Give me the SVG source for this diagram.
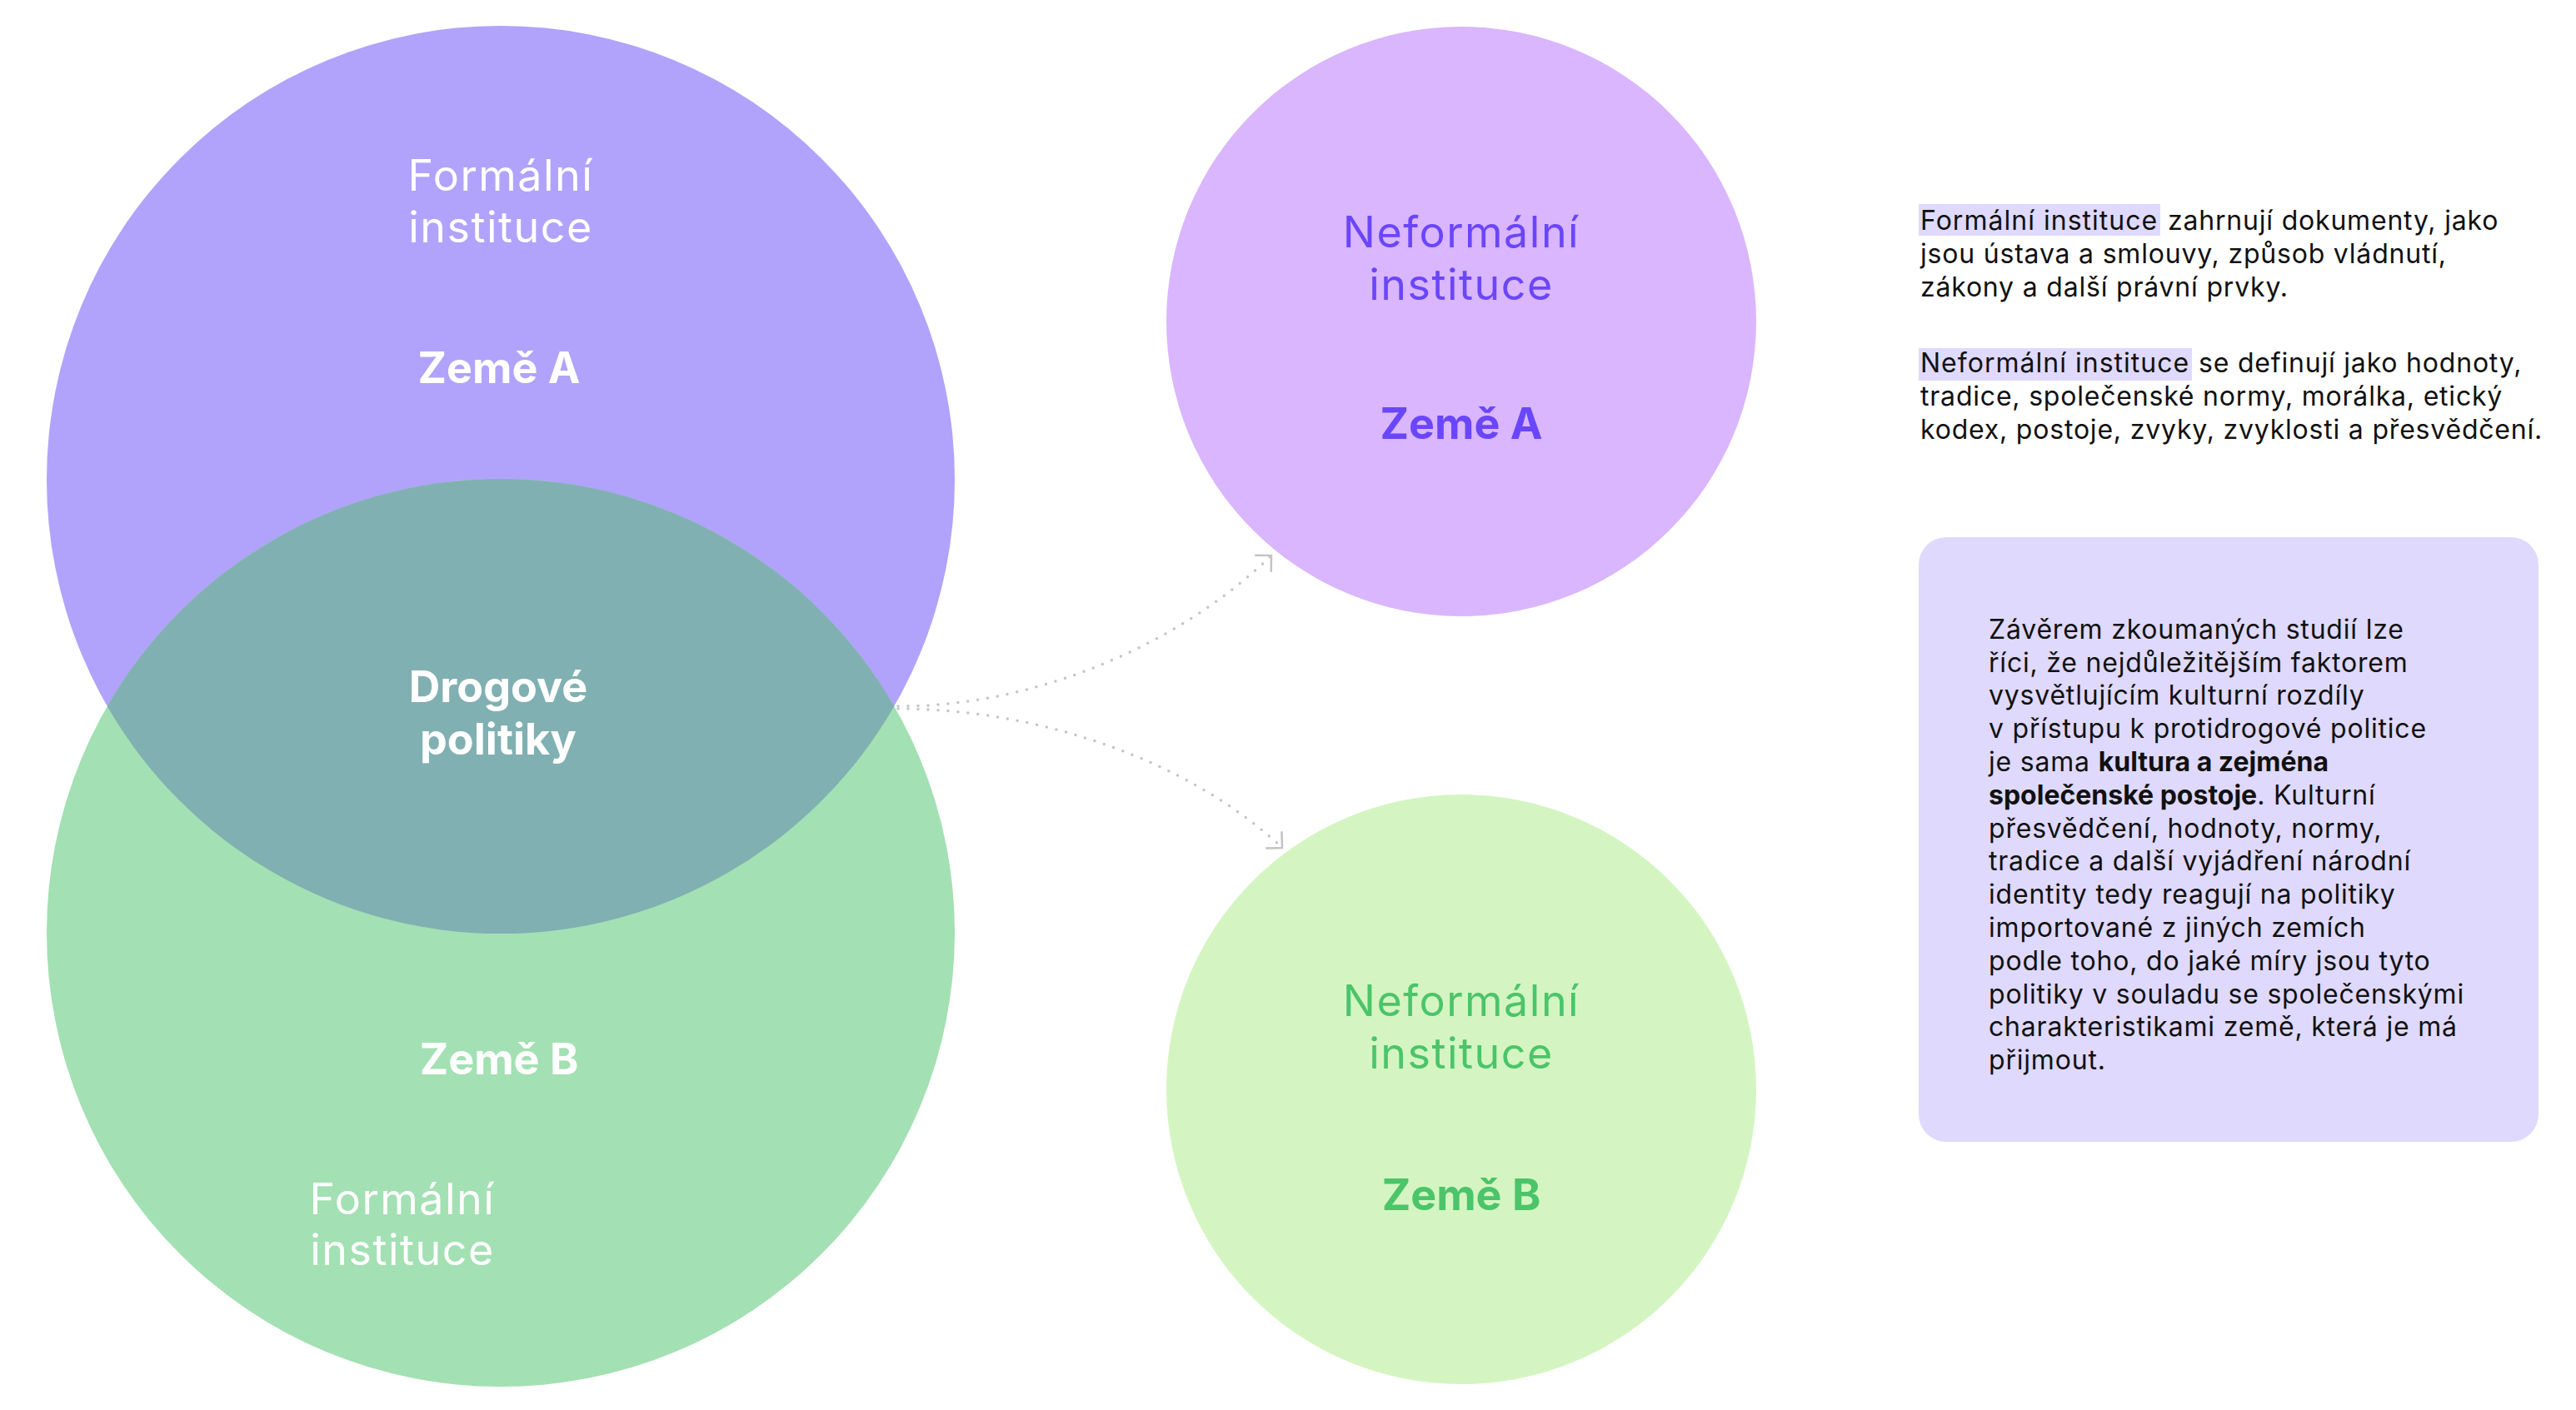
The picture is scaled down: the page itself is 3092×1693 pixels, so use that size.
<svg xmlns="http://www.w3.org/2000/svg" width="3092" height="1693" viewBox="0 0 3092 1693">
<style>
.lbl{font-family:Inter,"Noto Sans","DejaVu Sans",sans-serif;font-size:52px;text-anchor:middle;letter-spacing:1.5px}
.b{font-weight:700;letter-spacing:0}
.w{fill:#ffffff}
.pt{fill:#6A46FA}
.gt{fill:#4BC46A}
.body{font-family:Inter,"Noto Sans","DejaVu Sans",sans-serif;font-size:32px;fill:#111111;letter-spacing:0.8px}
.hl{fill:#DFDAFD}
.conn{fill:none;stroke:#C4C4C4;stroke-width:3.5;stroke-linecap:round;stroke-dasharray:0 12}
</style>
<defs>
<marker id="arr" markerUnits="userSpaceOnUse" viewBox="-20 -20 40 40" markerWidth="40" markerHeight="40" refX="0" refY="0" orient="auto">
<path d="M-14,-14 L0,0 L-14,14" fill="none" stroke="#C4C4C4" stroke-width="2.5"/>
</marker>
</defs>
<rect width="3092" height="1693" fill="#ffffff"/>

<g id="formal-a">
<circle cx="601" cy="576" r="545" fill="#B1A3FC"/>
<text class="lbl w" x="601" y="229">Formální</text>
<text class="lbl w" x="601" y="291">instituce</text>
<text class="lbl w b" x="599" y="460">Země A</text>
</g>

<g id="formal-b">
<circle cx="601" cy="1120" r="545" fill="#A3E0B3"/>
<text class="lbl w b" x="599" y="1290">Země B</text>
<text class="lbl w" x="483" y="1458">Formální</text>
<text class="lbl w" x="483" y="1519">instituce</text>
</g>

<g id="drug-policy">
<path d="M128.7,848 A545,545 0 0 1 1073.3,848 A545,545 0 0 1 128.7,848 Z" fill="#81B0B2"/>
<text class="lbl w b" x="598" y="843">Drogové</text>
<text class="lbl w b" x="598" y="906">politiky</text>
</g>

<g id="informal-a">
<circle cx="1754" cy="386" r="354" fill="#D9B6FD"/>
<text class="lbl pt" x="1754" y="297">Neformální</text>
<text class="lbl pt" x="1754" y="360">instituce</text>
<text class="lbl pt b" x="1754" y="527">Země A</text>
</g>

<g id="informal-b">
<circle cx="1754" cy="1308" r="354" fill="#D4F5C1"/>
<text class="lbl gt" x="1754" y="1220">Neformální</text>
<text class="lbl gt" x="1754" y="1283">instituce</text>
<text class="lbl gt b" x="1754" y="1453">Země B</text>
</g>

<g id="connectors">
<path class="conn" d="M1078,848 C1250,848 1420,770 1526,667" marker-end="url(#arr)"/>
<path class="conn" d="M1078,851 C1250,851 1430,915 1539,1018" marker-end="url(#arr)"/>
</g>

<g id="definitions">
<rect class="hl" x="2303" y="245" width="290" height="38"/>
<rect class="hl" x="2303" y="418" width="328" height="39"/>
<text class="body" x="2305" y="276" textLength="285" lengthAdjust="spacing">Formální instituce</text>
<text class="body" x="2602" y="276">zahrnují dokumenty, jako</text>
<text class="body" x="2305" y="316">jsou ústava a smlouvy, způsob vládnutí,</text>
<text class="body" x="2305" y="356">zákony a další právní prvky.</text>
<text class="body" x="2305" y="447" textLength="323" lengthAdjust="spacing">Neformální instituce</text>
<text class="body" x="2639" y="447">se definují jako hodnoty,</text>
<text class="body" x="2305" y="487">tradice, společenské normy, morálka, etický</text>
<text class="body" x="2305" y="527">kodex, postoje, zvyky, zvyklosti a přesvědčení.</text>
</g>

<g id="conclusion">
<rect x="2303" y="645" width="744" height="726" rx="33" ry="33" fill="#DFD9FD"/>
<text class="body" x="2387" y="767">Závěrem zkoumaných studií lze</text>
<text class="body" x="2387" y="807">říci, že nejdůležitějším faktorem</text>
<text class="body" x="2387" y="846">vysvětlujícím kulturní rozdíly</text>
<text class="body" x="2387" y="886">v přístupu k protidrogové politice</text>
<text class="body" x="2387" y="926">je sama <tspan class="b">kultura a zejména</tspan></text>
<text class="body" x="2387" y="966"><tspan class="b">společenské postoje</tspan>. Kulturní</text>
<text class="body" x="2387" y="1006">přesvědčení, hodnoty, normy,</text>
<text class="body" x="2387" y="1045">tradice a další vyjádření národní</text>
<text class="body" x="2387" y="1085">identity tedy reagují na politiky</text>
<text class="body" x="2387" y="1125">importované z jiných zemích</text>
<text class="body" x="2387" y="1165">podle toho, do jaké míry jsou tyto</text>
<text class="body" x="2387" y="1205">politiky v souladu se společenskými</text>
<text class="body" x="2387" y="1244">charakteristikami země, která je má</text>
<text class="body" x="2387" y="1284">přijmout.</text>
</g>
</svg>
